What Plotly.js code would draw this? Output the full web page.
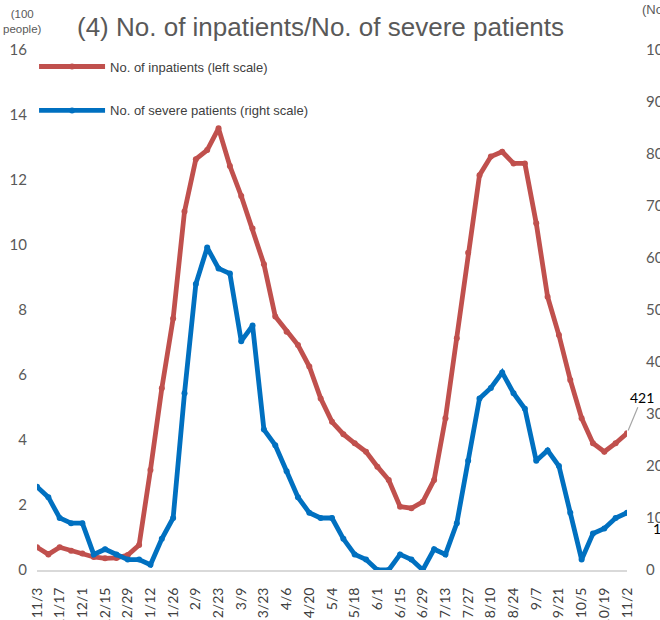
<!DOCTYPE html>
<html>
<head>
<meta charset="utf-8">
<script src="https://cdn.plot.ly/plotly-3.0.1.min.js"></script>
<style>
html,body{margin:0;padding:0;overflow:hidden;background:#fff;}
#chart{width:660px;height:620px;}
</style>
</head>
<body>
<div id="chart"></div>
<script>
// weekly dates, 2021-11-03 .. 2022-11-02
const weeks = ["11/3","11/10","11/17","11/24","12/1","12/8","12/15","12/22","12/29",
  "1/5","1/12","1/19","1/26","2/2","2/9","2/16","2/23","3/2","3/9","3/16","3/23","3/30",
  "4/6","4/13","4/20","4/27","5/4","5/11","5/18","5/25","6/1","6/8","6/15","6/22","6/29",
  "7/6","7/13","7/20","7/27","8/3","8/10","8/17","8/24","8/31","9/7","9/14","9/21","9/28",
  "10/5","10/12","10/19","10/26","11/2"];

// No. of inpatients (100 people, left scale)
const inpatients = [0.70,0.48,0.70,0.59,0.51,0.40,0.36,0.37,0.46,
  0.77,3.08,5.59,7.74,11.03,12.64,12.92,13.59,12.43,11.51,10.51,9.41,7.80,
  7.33,6.92,6.26,5.28,4.56,4.18,3.90,3.64,3.18,2.77,1.95,1.90,2.10,
  2.77,4.67,7.13,9.76,12.15,12.72,12.87,12.51,12.51,10.67,8.41,7.23,5.85,
  4.67,3.90,3.64,3.90,4.21];

// No. of severe patients (people, right scale)
const severe = [16,14,10,9,9,3,4,3,2,
  2,1,6,10,34,55,62,58,57,44,47,27,24,
  19,14,11,10,10,6,3,2,0,0,3,2,0,
  4,3,9,21,33,35,38,34,31,21,23,20,11,
  2,7,8,10,11];

const tickLabels = weeks.filter((d,i)=> i%2===0);

const RED = "#C0504D", BLUE = "#0070C0", GRAY = "#595959";
const last = weeks.length-1;

const traces = [
  {x: weeks, y: inpatients, name: "No. of inpatients (left scale)", type: "scatter",
   mode: "lines+markers", line: {color: RED, width: 4.8}, marker: {color: RED, size: 6},
   legendgroup: "a", yaxis: "y"},
  {x: weeks, y: severe, name: "No. of severe patients (right scale)", type: "scatter",
   mode: "lines+markers", line: {color: BLUE, width: 4.8}, marker: {color: BLUE, size: 6},
   legendgroup: "b", yaxis: "y2"}
];

const layout = {
  width: 660, height: 620,
  margin: {l: 37, r: 33, t: 50, b: 50},
  paper_bgcolor: "#fff", plot_bgcolor: "#fff",
  showlegend: true,
  legend: {x: -0.005, y: 0.997, xanchor: "left", yanchor: "top",
    traceorder: "grouped", tracegroupgap: 24, itemwidth: 66,
    bgcolor: "rgba(0,0,0,0)",
    font: {family: "Liberation Sans Narrow, Arial Narrow, Liberation Sans, Arial, sans-serif", size: 13, color: "#404040"}},
  title: {text: "(4) No. of inpatients/No. of severe patients",
    xref: "container", yref: "container", x: 77/660, xanchor: "left", y: 1-27/620, yanchor: "middle",
    font: {family: "Liberation Sans, Arial, sans-serif", size: 26, color: GRAY}},
  xaxis: {type: "category", range: [0, last], tickmode: "array", tickvals: tickLabels, ticktext: tickLabels,
    tickangle: -90, showgrid: false, zeroline: false, showline: true, linecolor: "#D9D9D9", linewidth: 2,
    ticks: "", ticklabelstandoff: 10, automargin: false,
    tickfont: {family: "Lato, sans-serif", size: 14, color: "#404040"}},
  yaxis: {range: [0, 16], dtick: 2, showgrid: false, zeroline: false, showline: false, ticks: "",
    ticklabelstandoff: 9, automargin: false,
    tickfont: {family: "Lato, sans-serif", size: 15, color: GRAY}},
  yaxis2: {range: [0, 100], dtick: 10, overlaying: "y", side: "right", showgrid: false, zeroline: false,
    showline: false, ticks: "", ticklabelstandoff: 18, automargin: false,
    tickfont: {family: "Lato, sans-serif", size: 15, color: GRAY}},
  annotations: [
    {xref: "paper", yref: "paper", x: -0.025, y: 1.054, text: "(100<br>people)", showarrow: false,
     xanchor: "center", yanchor: "middle", align: "center",
     font: {family: "Liberation Sans, Arial, sans-serif", size: 11.5, color: GRAY}},
    {xref: "paper", yref: "paper", x: (640-37)/590, y: (570-9)/520, text: "(No. of people)", showarrow: false,
     xanchor: "left", yanchor: "middle",
     font: {family: "Liberation Sans, Arial, sans-serif", size: 13, color: GRAY}},
    {x: weeks[last], y: inpatients[last], xref: "x", yref: "y", text: String(Math.round(inpatients[last]*100)),
     showarrow: true, arrowhead: 0, arrowwidth: 1.2, arrowcolor: "#A6A6A6", ax: 15, ay: -36, standoff: 3,
     font: {family: "Lato, sans-serif", size: 14, color: "#000"}},
    {x: weeks[last], y: severe[last], xref: "x", yref: "y2", text: String(severe[last]),
     showarrow: true, arrowcolor: "rgba(0,0,0,0)", ax: 24, ay: 16, xanchor: "left",
     font: {family: "Lato, sans-serif", size: 14, color: "#000"}}
  ],
  shapes: [
    {type: "path", xref: "x", yref: "y2", xsizemode: "pixel", ysizemode: "pixel",
     xanchor: last, yanchor: severe[last], path: "M1,-6 L1,-13 L14,-13",
     line: {color: "#A6A6A6", width: 1.2}}
  ]
};

Plotly.newPlot("chart", traces, layout, {staticPlot: true, displayModeBar: false});
</script>
</body>
</html>
